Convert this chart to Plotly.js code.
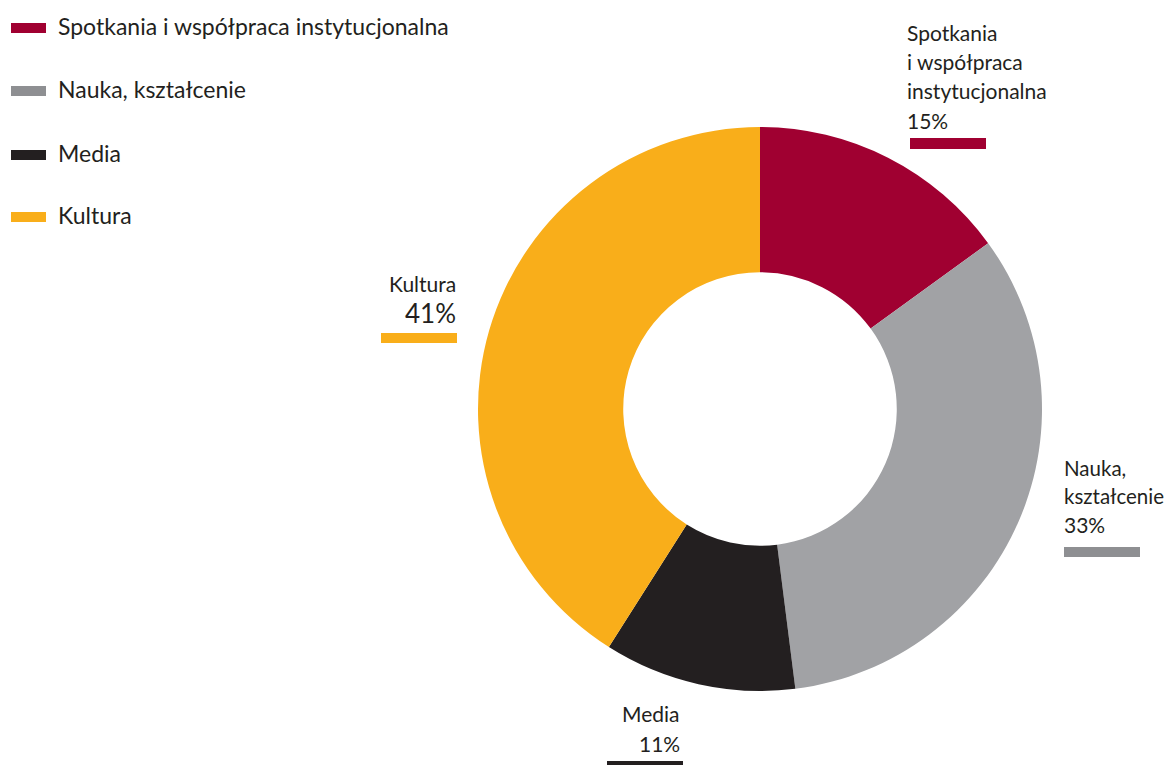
<!DOCTYPE html>
<html>
<head>
<meta charset="utf-8">
<script src="https://cdn.plot.ly/plotly-3.0.1.min.js"></script>
<style>html,body{margin:0;padding:0;background:#fff;}#chart{width:1169px;height:765px;}</style>
</head>
<body>
<div id="chart"></div>
<script>
// Data
const categories = ["Spotkania i współpraca instytucjonalna", "Nauka, kształcenie", "Media", "Kultura"];
const values = [15, 33, 11, 41];
const sliceColors = ["#A00031", "#A1A2A5", "#231F20", "#F9AE1A"];
const swatchColors = ["#A00031", "#8E8F92", "#231F20", "#F9AE1A"];
const labelLines = [["Spotkania", "i współpraca", "instytucjonalna"], ["Nauka,", "kształcenie"], ["Media"], ["Kultura"]];
const pctLabels = values.map(v => v + "%");

const W = 1169, H = 765;
const FONT = "Lato, 'Noto Sans', sans-serif";
const TXT = "#231F20";
const px = x => x / W;
const py = y => 1 - y / H;

const annotations = [];
const shapes = [];
function addText(text, x, baseline, size, anchor) {
  annotations.push({
    xref: "paper", yref: "paper", x: px(x), y: py(baseline - 0.34 * size),
    xanchor: anchor, yanchor: "middle", showarrow: false, text: text,
    font: {family: FONT, size: size, color: TXT}
  });
}
function addBar(x0, y0, x1, y1, color) {
  shapes.push({type: "rect", xref: "paper", yref: "paper", x0: px(x0), x1: px(x1), y0: py(y1), y1: py(y0),
    fillcolor: color, line: {width: 0}, layer: "above"});
}

// Custom legend
const legendCenters = [28, 91, 155, 217];
categories.forEach((c, i) => {
  addBar(11, legendCenters[i] - 5, 46, legendCenters[i] + 5, swatchColors[i]);
  addText(c, 56, legendCenters[i] + 6, 23, "left");
});

const LS = 21;
// Spotkania
[0].forEach(i => {
  const bl = [40, 69, 98];
  labelLines[i].forEach((t, k) => addText(t, 905, bl[k], LS, "left"));
  addText(pctLabels[i], 905, 128, LS, "left");
  addBar(910, 138, 986, 149, sliceColors[i]);
});
// Nauka
[1].forEach(i => {
  const bl = [475, 503];
  labelLines[i].forEach((t, k) => addText(t, 1062, bl[k], 20.5, "left"));
  addText(pctLabels[i], 1062, 532, LS, "left");
  addBar(1064, 547, 1140, 557, swatchColors[i]);
});
// Media
[2].forEach(i => {
  addText(labelLines[i][0], 682, 721, LS, "right");
  addText(pctLabels[i], 682, 751, LS, "right");
  addBar(607, 761, 683, 770, sliceColors[i]);
});
// Kultura
[3].forEach(i => {
  addText(labelLines[i][0], 458, 291, LS, "right");
  addText(pctLabels[i], 458, 322, 26, "right");
  addBar(381, 333, 457, 343, sliceColors[i]);
});

const trace = {
  type: "pie",
  labels: categories,
  values: values,
  marker: {colors: sliceColors, line: {width: 0}},
  hole: 0.485,
  sort: false,
  direction: "clockwise",
  rotation: 0,
  textinfo: "none",
  hoverinfo: "label+percent",
  domain: {x: [px(478), px(1042)], y: [py(691), py(127)]},
  showlegend: false
};

Plotly.newPlot("chart", [trace], {
  width: W, height: H,
  margin: {l: 0, r: 0, t: 0, b: 0},
  paper_bgcolor: "#ffffff",
  showlegend: false,
  annotations: annotations,
  shapes: shapes
}, {displayModeBar: false, staticPlot: true});
</script>
</body>
</html>
